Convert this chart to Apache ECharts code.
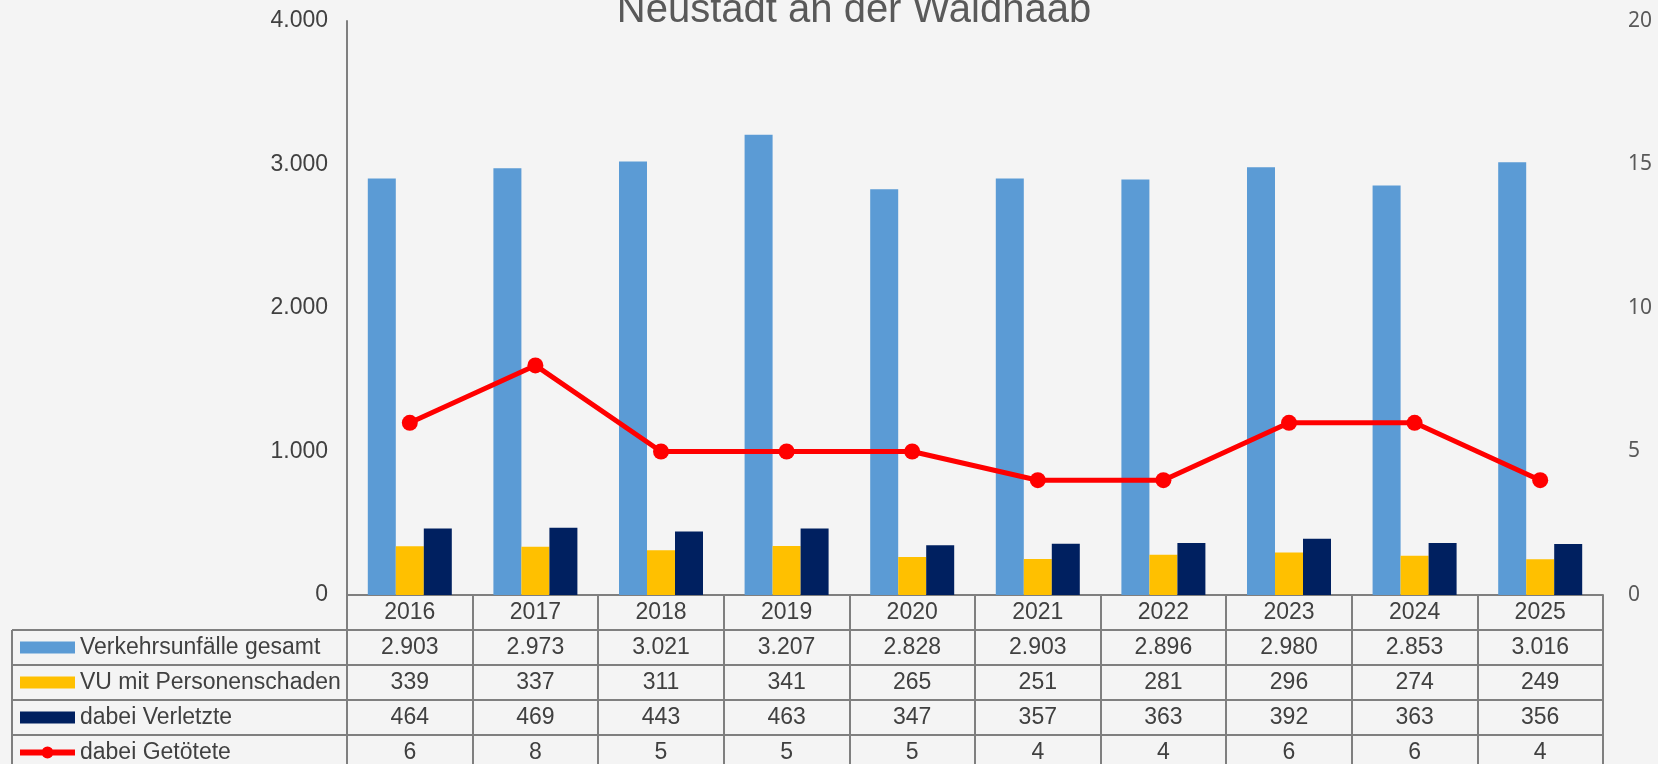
<!DOCTYPE html>
<html>
<head>
<meta charset="utf-8">
<script src="https://cdn.jsdelivr.net/npm/echarts@6/dist/echarts.min.js"></script>
<style>
  html, body { margin: 0; padding: 0; background: #f4f4f4; }
  #main { width: 1658px; height: 764px; }
</style>
</head>
<body>
<div id="main"></div>
<script>
// Daten
var years = ["2016", "2017", "2018", "2019", "2020", "2021", "2022", "2023", "2024", "2025"];
var gesamt = [2903, 2973, 3021, 3207, 2828, 2903, 2896, 2980, 2853, 3016];
var personenschaden = [339, 337, 311, 341, 265, 251, 281, 296, 274, 249];
var verletzte = [464, 469, 443, 463, 347, 357, 363, 392, 363, 356];
var getoetete = [6, 8, 5, 5, 5, 4, 4, 6, 6, 4];
var leftTicks = [0, 1000, 2000, 3000, 4000];
var rightTicks = [0, 5, 10, 15, 20];

var font = "'Liberation Sans', Arial, sans-serif";
var textColor = "#404040";
var lineColor = "#7f7f7f";

function fmt(v) {
  return String(v).replace(/\B(?=(\d{3})+(?!\d))/g, ".");
}

var myChart = echarts.init(document.getElementById("main"));

// Tabellenlinien links und horizontal
var tableRows = [630, 665, 700, 735];
var graphics = [];
for (var i = 0; i < tableRows.length; i++) {
  graphics.push({
    type: "line",
    shape: { x1: 12, y1: tableRows[i], x2: 1603, y2: tableRows[i] },
    style: { stroke: lineColor, lineWidth: 2 }
  });
}
graphics.push({
  type: "line",
  shape: { x1: 12, y1: 630, x2: 12, y2: 770 },
  style: { stroke: lineColor, lineWidth: 2 }
});

// Legendensymbol: dicke Linie mit Punkt (55x12)
var lineIcon = "path://M0,3H55V9H0Z M27.5,0A6,6,0,1,1,27.49,0Z";

myChart.setOption({
  backgroundColor: "#f4f4f4",
  animation: false,
  title: {
    text: "Neustadt an der Waldnaab",
    left: 849,
    textAlign: "center",
    top: -14,
    textStyle: { fontFamily: font, fontSize: 40, fontWeight: "normal", color: "#595959" }
  },
  legend: {
    orient: "vertical",
    left: 20,
    top: 630,
    height: 200,
    itemGap: 0,
    itemWidth: 55,
    itemHeight: 12,
    padding: 0,
    selectedMode: false,
    textStyle: { fontFamily: font, fontSize: 23, color: textColor, lineHeight: 35, height: 35 },
    data: [
      { name: "Verkehrsunfälle gesamt", icon: "rect" },
      { name: "VU mit Personenschaden", icon: "rect" },
      { name: "dabei Verletzte", icon: "rect" },
      { name: "dabei Getötete", icon: lineIcon, itemStyle: { color: "#ff0000" } }
    ]
  },
  grid: {
    left: 347,
    right: 55,
    top: 21,
    bottom: 169,
    containLabel: false,
    outerBoundsMode: "none"
  },
  xAxis: [
    {
      type: "category",
      data: years,
      boundaryGap: true,
      axisLine: { lineStyle: { color: lineColor, width: 2 } },
      axisTick: { show: true, interval: 0, length: 175, lineStyle: { color: lineColor, width: 2 } },
      axisLabel: {
        interval: 0,
        margin: 0,
        verticalAlign: "top",
        fontFamily: font,
        fontSize: 23,
        lineHeight: 35,
        color: textColor,
        formatter: function (value, idx) {
          return value + "\n" + fmt(gesamt[idx]) + "\n" + personenschaden[idx] + "\n" +
            verletzte[idx] + "\n" + getoetete[idx];
        }
      }
    }
  ],
  yAxis: [
    {
      type: "value",
      min: leftTicks[0],
      max: leftTicks[leftTicks.length - 1],
      interval: 1000,
      axisLine: { show: true, lineStyle: { color: lineColor, width: 2 } },
      axisTick: { show: false },
      splitLine: { show: false },
      axisLabel: {
        margin: 19,
        fontFamily: font,
        fontSize: 23,
        color: textColor,
        formatter: function (v) { return fmt(v); }
      }
    },
    {
      type: "value",
      min: rightTicks[0],
      max: rightTicks[rightTicks.length - 1],
      interval: 5,
      axisLine: { show: false },
      axisTick: { show: false },
      splitLine: { show: false },
      axisLabel: {
        margin: 25,
        fontFamily: "'Noto Sans', sans-serif",
        fontSize: 21,
        color: "#595959"
      }
    }
  ],
  graphic: graphics,
  series: [
    {
      name: "Verkehrsunfälle gesamt",
      type: "bar",
      barWidth: 28,
      barGap: "0%",
      itemStyle: { color: "#5b9bd5" },
      data: gesamt
    },
    {
      name: "VU mit Personenschaden",
      type: "bar",
      barWidth: 28,
      barGap: "0%",
      itemStyle: { color: "#ffc000" },
      data: personenschaden
    },
    {
      name: "dabei Verletzte",
      type: "bar",
      barWidth: 28,
      barGap: "0%",
      itemStyle: { color: "#002060" },
      data: verletzte
    },
    {
      name: "dabei Getötete",
      type: "line",
      yAxisIndex: 1,
      symbol: "circle",
      symbolSize: 16,
      lineStyle: { color: "#ff0000", width: 5 },
      itemStyle: { color: "#ff0000" },
      data: getoetete
    }
  ]
});
</script>
</body>
</html>
